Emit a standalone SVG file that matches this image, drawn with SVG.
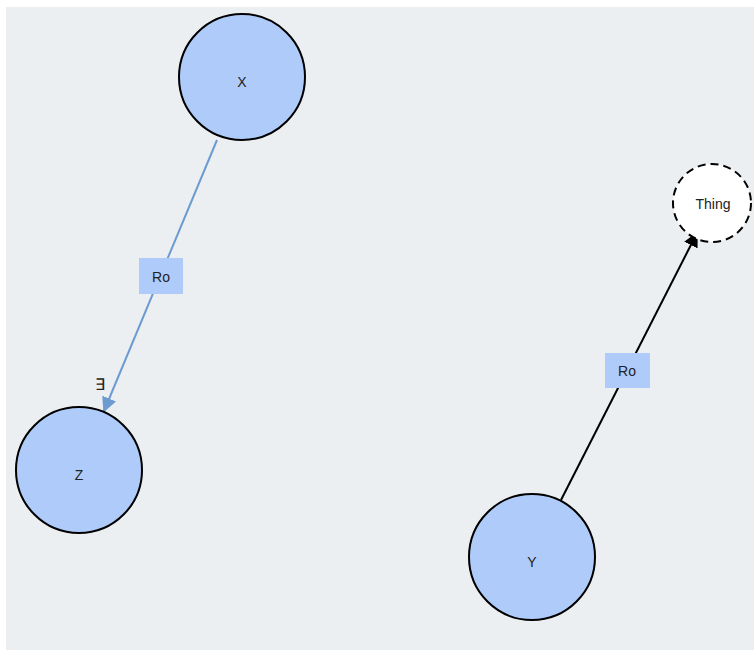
<svg xmlns="http://www.w3.org/2000/svg" width="754" height="650" viewBox="0 0 754 650">
<style>
.node{fill:#aecbfa;stroke:#000;stroke-width:2}
.thing{fill:#fff;stroke:#000;stroke-width:2;stroke-dasharray:8 5}
.lbl{font-family:"Liberation Sans",Arial,sans-serif;font-size:14px;fill:#222;text-anchor:middle;dominant-baseline:central}
.box{fill:#aecbfa}
</style>
<defs>
<marker id="ab" viewBox="0 0 10 10" refX="9" refY="5" markerWidth="7.5" markerHeight="7.5" orient="auto" markerUnits="strokeWidth"><path d="M0,0 L10,5 L0,10 z" fill="#6b9bd1"/></marker>
<marker id="ak" viewBox="0 0 10 10" refX="9" refY="5" markerWidth="7.5" markerHeight="7.5" orient="auto" markerUnits="strokeWidth"><path d="M0,0 L10,5 L0,10 z" fill="#000"/></marker>
</defs>
<rect x="0" y="0" width="754" height="650" fill="#fff"/>
<rect x="6" y="7" width="748" height="643" fill="#eceff1"/>
<g id="connectors">
<g id="e1">
<line x1="217" y1="140" x2="104" y2="411" stroke="#6b9bd1" stroke-width="2" marker-end="url(#ab)"/>
<rect class="box" x="139" y="258" width="44" height="36"/>
<text class="lbl" x="161" y="277">Ro</text>
<text class="lbl" x="100" y="384" style="font-size:16px">∃</text>
</g>
<g id="e2">
<line x1="561" y1="500" x2="697" y2="233" stroke="#000" stroke-width="2" marker-end="url(#ak)"/>
<rect class="box" x="605" y="353" width="45" height="35"/>
<text class="lbl" x="627" y="371">Ro</text>
</g>
</g>
<g id="X"><circle class="node" cx="242" cy="77" r="63"/><text class="lbl" x="242" y="82">X</text></g>
<g id="Z"><circle class="node" cx="79" cy="470" r="63"/><text class="lbl" x="79" y="475">Z</text></g>
<g id="Y"><circle class="node" cx="532" cy="557" r="63"/><text class="lbl" x="532" y="562">Y</text></g>
<g id="Thing"><circle class="thing" cx="712" cy="203" r="39"/><text class="lbl" x="713" y="204">Thing</text></g>
</svg>
